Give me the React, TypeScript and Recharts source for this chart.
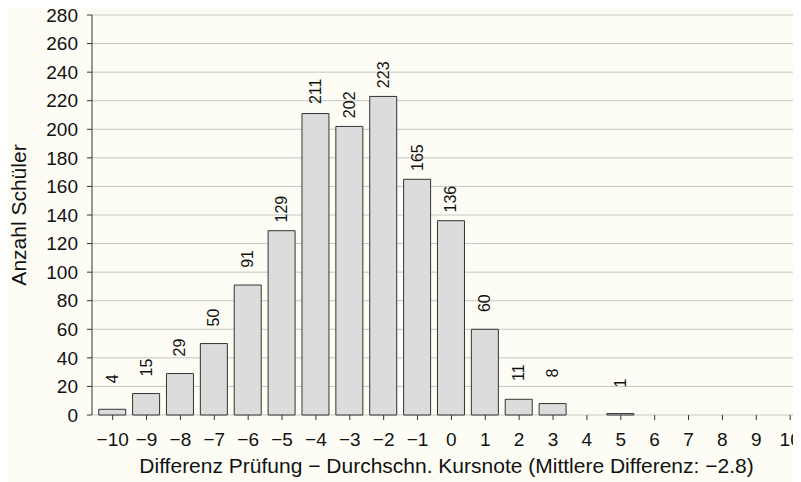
import React from 'react';
import { BarChart, Bar, XAxis, YAxis, CartesianGrid, LabelList, Label } from 'recharts';

const diffs = [-10, -9, -8, -7, -6, -5, -4, -3, -2, -1, 0, 1, 2, 3, 4, 5, 6, 7, 8, 9, 10];
const counts = [4, 15, 29, 50, 91, 129, 211, 202, 223, 165, 136, 60, 11, 8, 0, 1, 0, 0, 0, 0, 0];
const yTicks = [0, 20, 40, 60, 80, 100, 120, 140, 160, 180, 200, 220, 240, 260, 280];

const xTitle = 'Differenz Prüfung − Durchschn. Kursnote (Mittlere Differenz: −2.8)';
const yTitle = 'Anzahl Schüler';

const data = diffs.map((d, i) => ({ diff: d, count: counts[i] }));

const FONT = 'Liberation Sans, Arial, Helvetica, sans-serif';
const BG = '#fdfdf5';

const fmtMinus = (v: number) => String(v).replace('-', '−');

// labels are right-aligned: their end sits a fixed distance above the bar
const BarValue = (props: any) => {
  const { x, y, width, value } = props;
  if (!value) return null;
  const cx = x + width / 2;
  const cy = y - 35;
  return (
    <text
      x={cx}
      y={cy}
      transform={`rotate(-90 ${cx} ${cy})`}
      textAnchor="end"
      dominantBaseline="central"
      fontSize={16}
      fontFamily={FONT}
      fill="#111"
    >
      {value}
    </text>
  );
};

const YTitle = (props: any) => {
  const { y, height } = props.viewBox;
  const cx = 10;
  const cy = y + height / 2;
  return (
    <text
      x={cx}
      y={cy}
      transform={`rotate(-90 ${cx} ${cy})`}
      textAnchor="middle"
      dominantBaseline="central"
      fontSize={21}
      fontFamily={FONT}
      fill="#111"
    >
      {yTitle}
    </text>
  );
};

const XTitle = (props: any) => {
  const { x, width } = props.viewBox;
  return (
    <text x={x + width / 2} y={465} textAnchor="middle" fontSize={21} fontFamily={FONT} fill="#111">
      {xTitle}
    </text>
  );
};

export default function App() {
  return (
    <div style={{ margin: -8, padding: 8, width: 793, height: 474, background: BG }}>
      <BarChart
        width={793}
        height={474}
        data={data}
        margin={{ top: 7, right: 0, bottom: 0, left: 0 }}
      >
        <CartesianGrid vertical={false} stroke="#c6c6c6" strokeWidth={1} />
        <XAxis
          type="number"
          dataKey="diff"
          domain={[-10.61, 10.32]}
          allowDataOverflow
          ticks={diffs}
          interval={0}
          tickFormatter={fmtMinus}
          axisLine={false}
          tickLine={{ stroke: '#333' }}
          tickSize={5}
          tickMargin={13}
          tick={{ fontSize: 19, fill: '#111', fontFamily: FONT }}
          height={67}
        >
          <Label content={<XTitle />} />
        </XAxis>
        <YAxis
          type="number"
          domain={[0, 280]}
          ticks={yTicks}
          interval={0}
          width={84}
          axisLine={{ stroke: '#333' }}
          tickLine={{ stroke: '#333' }}
          tickSize={5}
          tickMargin={9}
          tick={{ fontSize: 19, fill: '#111', fontFamily: FONT }}
        >
          <Label content={<YTitle />} />
        </YAxis>
        <Bar
          dataKey="count"
          fill="#dcdcdc"
          stroke="#333"
          strokeWidth={1}
          barSize={27}
          isAnimationActive={false}
        >
          <LabelList dataKey="count" content={<BarValue />} />
        </Bar>
      </BarChart>
    </div>
  );
}
